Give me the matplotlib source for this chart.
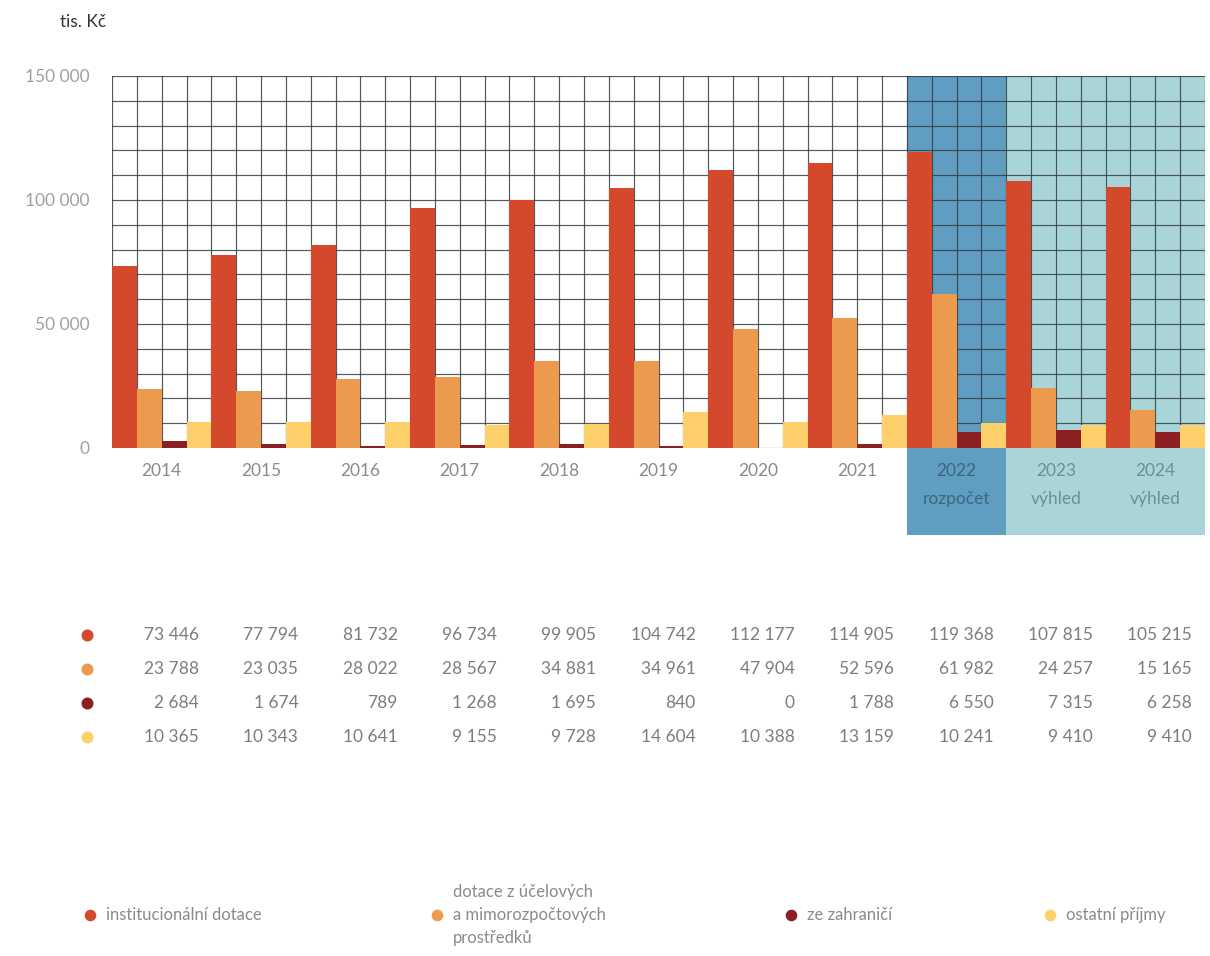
import matplotlib
matplotlib.use("Agg")
import matplotlib.pyplot as plt
from matplotlib.patches import Rectangle
import matplotlib.transforms as mtransforms

plt.rcParams['font.family'] = ['Lato', 'DejaVu Sans']

# data (tis. Kč)
years = ["2014", "2015", "2016", "2017", "2018", "2019", "2020", "2021",
         "2022\nrozpočet", "2023\nvýhled", "2024\nvýhled"]
institucionalni = [73446, 77794, 81732, 96734, 99905, 104742, 112177, 114905, 119368, 107815, 105215]
ucelove = [23788, 23035, 28022, 28567, 34881, 34961, 47904, 52596, 61982, 24257, 15165]
zahranici = [2684, 1674, 789, 1268, 1695, 840, 0, 1788, 6550, 7315, 6258]
ostatni = [10365, 10343, 10641, 9155, 9728, 14604, 10388, 13159, 10241, 9410, 9410]

series = [institucionalni, ucelove, zahranici, ostatni]
names = ["institucionální dotace", "dotace z účelových\na mimorozpočtových\nprostředků",
         "ze zahraničí", "ostatní příjmy"]
colors = ["#d4492b", "#ec9a4e", "#8c1f1f", "#fdd06c"]

W, H = 1210, 956
fig = plt.figure(figsize=(W / 100, H / 100), dpi=100)

# background layer in pixel coordinates for table + legend
bg = fig.add_axes([0, 0, 1, 1])
bg.set_xlim(0, W)
bg.set_ylim(H, 0)
bg.axis('off')

ax = fig.add_axes([112 / W, 1 - 448 / H, (1205 - 112) / W, (448 - 76) / H])
n = len(years)
ax.set_xlim(0, n * 4)
ax.set_ylim(0, 150000)

# shaded plan / outlook columns (extend below the axis over the labels)
trans = mtransforms.blended_transform_factory(ax.transData, ax.transAxes)
ext = (448 - 535) / 372
ax.add_patch(Rectangle((32, ext), 4, 1 - ext, transform=trans, color="#5f9ec1",
                       clip_on=False, zorder=0.1, lw=0))
ax.add_patch(Rectangle((36, ext), 8, 1 - ext, transform=trans, color="#a9d5d8",
                       clip_on=False, zorder=0.1, lw=0))

for k, (vals, c) in enumerate(zip(series, colors)):
    xs = [g * 4 + k + 0.5 for g in range(n)]
    ax.bar(xs, vals, width=1.0, color=c, zorder=2, lw=0)

ax.set_xticks(range(0, n * 4 + 1), minor=True)
ax.set_yticks(range(0, 150001, 10000), minor=True)
ax.set_yticks([0, 50000, 100000, 150000])
ax.set_yticklabels(["0", "50 000", "100 000", "150 000"])
ax.set_xticks([g * 4 + 2 for g in range(n)])
ax.set_xticklabels(years, linespacing=1.9)
ax.grid(which='both', color="#333d48", lw=0.85, alpha=0.85)
ax.set_axisbelow(True)
ax.patch.set_alpha(0)
for s in ax.spines.values():
    s.set_visible(False)

ax.tick_params(which='both', length=0)
ax.tick_params(axis='y', pad=16, labelsize=12.5, labelcolor="#a0a0a0")
ax.tick_params(axis='x', pad=11, labelsize=12.5, labelcolor="#8a8a8a")
for i, t in enumerate(ax.get_xticklabels()):
    if i == 8:
        t.set_color("#3f6680")
    elif i > 8:
        t.set_color("#6f8f95")

fig.text(60 / W, 1 - 22 / H, "tis. Kč", fontsize=12.5, color="#333333", va='center')

# value table
rows_y = [635, 669, 703, 737]
for vals, c, y in zip(series, colors, rows_y):
    bg.scatter([87], [y], s=75, color=c, lw=0)
    for i, v in enumerate(vals):
        bg.text(199 + 99.3 * i, y, f"{v:,}".replace(",", " "), ha='right', va='center',
                fontsize=12.5, color="#7d7d7d")

# legend
leg_x = [90, 437, 791, 1050]
for x, c, name in zip(leg_x, colors, names):
    bg.scatter([x], [915], s=70, color=c, lw=0)
    bg.text(x + 16, 915, name, ha='left', va='center', fontsize=12,
            color="#8a8a8a", linespacing=1.55)

fig.savefig("out.png", dpi=100)
